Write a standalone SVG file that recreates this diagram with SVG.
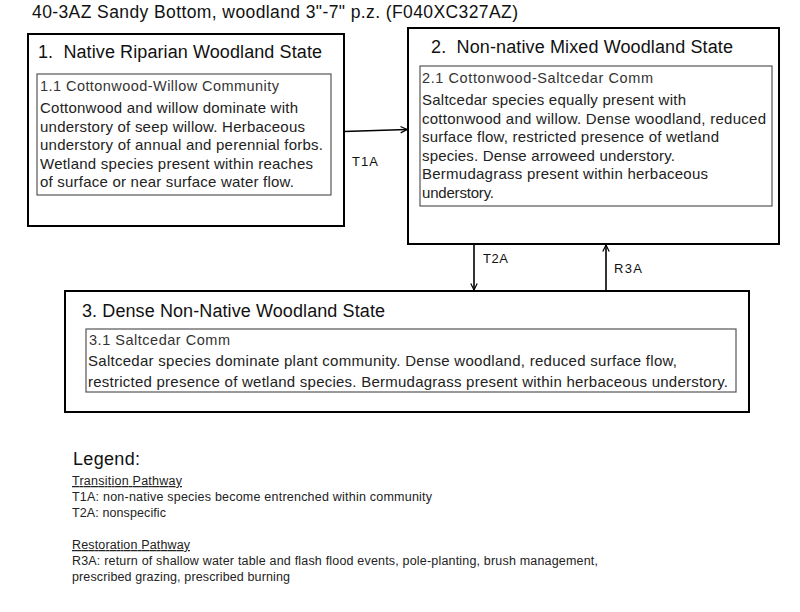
<svg xmlns="http://www.w3.org/2000/svg" width="800" height="612" viewBox="0 0 800 612">
<style>
text{font-family:"Liberation Sans",Arial,sans-serif;fill:#111}
.outer{fill:#fff;stroke:#000;stroke-width:2}
.inner{fill:#fff;stroke:#555;stroke-width:1.2}
.st{font-size:18px}
.sub{font-size:14.5px;fill:#333}
.body{font-size:15px;fill:#222}
.lbl{font-size:13px}
.leg{font-size:12.5px;fill:#222}
.conn{stroke:#000;stroke-width:1.6;fill:none;marker-end:url(#ah)}
</style>
<defs>
<marker id="ah" viewBox="0 0 10 10" refX="9" refY="5" markerWidth="8" markerHeight="8" markerUnits="userSpaceOnUse" orient="auto">
<path d="M1,1 L9,5 L1,9" fill="none" stroke="#000" stroke-width="1.5"/>
</marker>
</defs>
<rect width="800" height="612" fill="#fff"/>
<text x="32" y="18" style="font-size:17.5px" textLength="486" lengthAdjust="spacing">40-3AZ Sandy Bottom, woodland 3"-7" p.z. (F040XC327AZ)</text>
<g id="node1">
<rect class="outer" x="28" y="34" width="316" height="192"/>
<text class="st" x="38" y="58" xml:space="preserve" textLength="284" lengthAdjust="spacing">1.  Native Riparian Woodland State</text>
<rect class="inner" x="37" y="74" width="294" height="121"/>
<text class="sub" x="40" y="91" textLength="239" lengthAdjust="spacing">1.1 Cottonwood-Willow Community</text>
<text class="body" x="40" y="113" textLength="258" lengthAdjust="spacing">Cottonwood and willow dominate with</text>
<text class="body" x="40" y="131.5" textLength="265" lengthAdjust="spacing">understory  of seep willow. Herbaceous</text>
<text class="body" x="40" y="150" textLength="283" lengthAdjust="spacing">understory  of annual and perennial forbs.</text>
<text class="body" x="40" y="168.5" textLength="273" lengthAdjust="spacing">Wetland species present within reaches</text>
<text class="body" x="40" y="187" textLength="254" lengthAdjust="spacing">of surface or near surface water flow.</text>
</g>
<g id="node2">
<rect class="outer" x="408" y="28" width="371" height="216"/>
<text class="st" x="431" y="53" xml:space="preserve" textLength="302" lengthAdjust="spacing">2.  Non-native Mixed Woodland State</text>
<rect class="inner" x="420" y="66" width="352" height="140"/>
<text class="sub" x="422" y="83" textLength="231" lengthAdjust="spacing">2.1 Cottonwood-Saltcedar Comm</text>
<text class="body" x="422" y="105" textLength="264" lengthAdjust="spacing">Saltcedar species equally present with</text>
<text class="body" x="422" y="123.5" textLength="344" lengthAdjust="spacing">cottonwood and willow. Dense woodland, reduced</text>
<text class="body" x="422" y="142" textLength="297" lengthAdjust="spacing">surface flow, restricted presence of wetland</text>
<text class="body" x="422" y="160.5" textLength="253" lengthAdjust="spacing">species. Dense arroweed understory.</text>
<text class="body" x="422" y="179" textLength="286" lengthAdjust="spacing">Bermudagrass present within herbaceous</text>
<text class="body" x="422" y="197.5" textLength="72" lengthAdjust="spacing">understory.</text>
</g>
<g id="node3">
<rect class="outer" x="65" y="291" width="684" height="121"/>
<text class="st" x="82" y="317" textLength="303" lengthAdjust="spacing">3. Dense Non-Native Woodland State</text>
<rect class="inner" x="86" y="329" width="650" height="63"/>
<text class="sub" x="89" y="345" textLength="141" lengthAdjust="spacing">3.1 Saltcedar Comm</text>
<text class="body" x="88" y="366" textLength="589" lengthAdjust="spacing">Saltcedar species dominate plant community.  Dense woodland, reduced surface flow,</text>
<text class="body" x="88" y="387" textLength="640" lengthAdjust="spacing">restricted presence of wetland species. Bermudagrass present within herbaceous understory.</text>
</g>
<g id="connectors">
<line class="conn" x1="344" y1="131.5" x2="407" y2="129.5"/>
<line class="conn" x1="474" y1="244" x2="474" y2="290"/>
<line class="conn" x1="606" y1="291" x2="606" y2="245"/>
<text class="lbl" x="352" y="166" textLength="26" lengthAdjust="spacing">T1A</text>
<text class="lbl" x="483" y="263" textLength="25" lengthAdjust="spacing">T2A</text>
<text class="lbl" x="614" y="273" textLength="28" lengthAdjust="spacing">R3A</text>
</g>
<g id="legend">
<text x="73" y="465" style="font-size:18px" textLength="67" lengthAdjust="spacing">Legend:</text>
<text class="leg" x="72" y="485" text-decoration="underline" textLength="110" lengthAdjust="spacing">Transition Pathway</text>
<text class="leg" x="72" y="501" textLength="360" lengthAdjust="spacing">T1A: non-native  species become entrenched within community</text>
<text class="leg" x="72" y="517" textLength="94" lengthAdjust="spacing">T2A: nonspecific</text>
<text class="leg" x="72" y="549" text-decoration="underline" textLength="118" lengthAdjust="spacing">Restoration Pathway</text>
<text class="leg" x="72" y="565" textLength="526" lengthAdjust="spacing">R3A: return of shallow water table and flash flood events, pole-planting, brush management,</text>
<text class="leg" x="72" y="581" textLength="218" lengthAdjust="spacing">prescribed grazing, prescribed burning</text>
</g>
</svg>
